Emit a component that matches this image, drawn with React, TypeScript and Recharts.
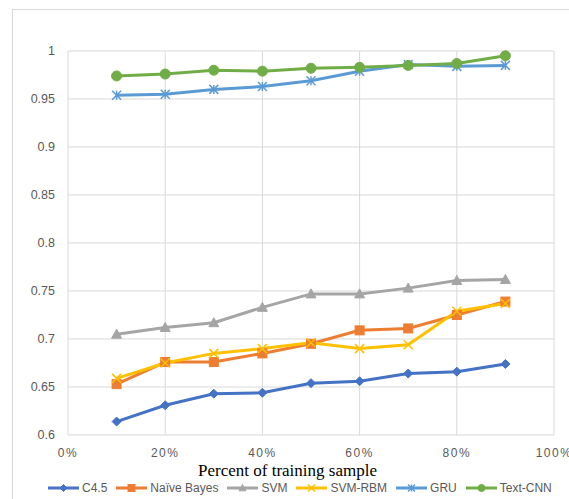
import { LineChart, Line, XAxis, YAxis, CartesianGrid } from 'recharts'

const percents = [10, 20, 30, 40, 50, 60, 70, 80, 90]
const xTicks = [0, 20, 40, 60, 80, 100]
const yTicks = [0.6, 0.65, 0.7, 0.75, 0.8, 0.85, 0.9, 0.95, 1]

const c45 = [0.614, 0.631, 0.643, 0.644, 0.654, 0.656, 0.664, 0.666, 0.674]
const naiveBayes = [0.653, 0.676, 0.676, 0.685, 0.695, 0.709, 0.711, 0.725, 0.739]
const svm = [0.705, 0.712, 0.717, 0.733, 0.747, 0.747, 0.753, 0.761, 0.762]
const svmRbm = [0.659, 0.675, 0.685, 0.69, 0.696, 0.69, 0.694, 0.729, 0.737]
const gru = [0.954, 0.955, 0.96, 0.963, 0.969, 0.979, 0.986, 0.984, 0.985]
const textCnn = [0.974, 0.976, 0.98, 0.979, 0.982, 0.983, 0.985, 0.987, 0.995]

type Marker = 'diamond' | 'square' | 'triangle' | 'cross' | 'star' | 'circle'

const series: { key: string; name: string; color: string; marker: Marker; values: number[] }[] = [
  { key: 'c45', name: 'C4.5', color: '#4472C4', marker: 'diamond', values: c45 },
  { key: 'nb', name: 'Naïve Bayes', color: '#ED7D31', marker: 'square', values: naiveBayes },
  { key: 'svm', name: 'SVM', color: '#A5A5A5', marker: 'triangle', values: svm },
  { key: 'svmRbm', name: 'SVM-RBM', color: '#FFC000', marker: 'cross', values: svmRbm },
  { key: 'gru', name: 'GRU', color: '#5B9BD5', marker: 'star', values: gru },
  { key: 'textCnn', name: 'Text-CNN', color: '#70AD47', marker: 'circle', values: textCnn },
]

const data = percents.map((p, i) => {
  const row: Record<string, number> = { pct: p }
  series.forEach((s) => (row[s.key] = s.values[i]))
  return row
})

const GREY = '#595959'
const GRID = '#D9D9D9'

function MarkerShape({ cx, cy, kind, color, size }: { cx: number; cy: number; kind: Marker; color: string; size: number }) {
  const r = size
  switch (kind) {
    case 'diamond':
      return <polygon points={`${cx},${cy - r} ${cx + r},${cy} ${cx},${cy + r} ${cx - r},${cy}`} fill={color} stroke={color} />
    case 'square':
      return <rect x={cx - r} y={cy - r} width={r * 2} height={r * 2} fill={color} stroke={color} />
    case 'triangle':
      return <polygon points={`${cx},${cy - r} ${cx + r},${cy + r * 0.8} ${cx - r},${cy + r * 0.8}`} fill={color} stroke={color} />
    case 'cross':
      return (
        <g stroke={color} strokeWidth={1.5}>
          <line x1={cx - r} y1={cy - r} x2={cx + r} y2={cy + r} />
          <line x1={cx - r} y1={cy + r} x2={cx + r} y2={cy - r} />
        </g>
      )
    case 'star':
      return (
        <g stroke={color} strokeWidth={1.5}>
          <line x1={cx - r} y1={cy - r} x2={cx + r} y2={cy + r} />
          <line x1={cx - r} y1={cy + r} x2={cx + r} y2={cy - r} />
          <line x1={cx} y1={cy - r} x2={cx} y2={cy + r} />
        </g>
      )
    default:
      return <circle cx={cx} cy={cy} r={r} fill={color} stroke={color} />
  }
}

const dotSize: Record<Marker, number> = { diamond: 4.5, square: 4.5, triangle: 5, cross: 4.5, star: 4.5, circle: 5 }

function XTick(props: any) {
  const { x, y, payload } = props
  return (
    <text x={x} y={y} dy="0.71em" textAnchor="middle" fill={GREY} fontSize={12} letterSpacing={1.5} fontFamily="Liberation Sans, Arial, sans-serif">
      {`${payload.value}%`}
    </text>
  )
}

export default function App() {
  return (
    <div style={{ position: 'absolute', left: 0, top: 0, width: 569, height: 499, overflow: 'hidden', background: '#fff' }}>
      <div style={{ position: 'absolute', left: 12, top: 9, width: 620, height: 600, border: `1px solid ${GRID}` }} />
      <LineChart
        width={569}
        height={499}
        data={data}
        margin={{ top: 51, right: 15, left: 13, bottom: 44 }}
        style={{ position: 'absolute', left: 0, top: 0 }}
      >
        <CartesianGrid stroke={GRID} />
        <XAxis
          dataKey="pct"
          type="number"
          domain={[0, 100]}
          ticks={xTicks}
          axisLine={false}
          tickLine={false}
          tickSize={0}
          tickMargin={13}
          height={20}
          tick={<XTick />}
        />
        <YAxis
          type="number"
          domain={[0.6, 1]}
          ticks={yTicks}
          axisLine={false}
          tickLine={false}
          tickSize={0}
          tickMargin={13}
          width={55}
          tick={{ fill: GREY, fontSize: 12.5, fontFamily: 'Liberation Sans, Arial, sans-serif' }}
        />
        {series.map((s) => (
          <Line
            key={s.key}
            dataKey={s.key}
            name={s.name}
            stroke={s.color}
            strokeWidth={3}
            isAnimationActive={false}
            dot={(p: any) => <MarkerShape key={`${s.key}-${p.index}`} cx={p.cx} cy={p.cy} kind={s.marker} color={s.color} size={dotSize[s.marker]} />}
            activeDot={false}
          />
        ))}
      </LineChart>
      <div
        style={{
          position: 'absolute',
          left: 0,
          width: 575,
          top: 462,
          textAlign: 'center',
          fontFamily: 'Liberation Serif, Times New Roman, serif',
          fontSize: 17,
          lineHeight: '17px',
          color: '#000',
        }}
      >
        Percent of training sample
      </div>
      <div
        style={{
          position: 'absolute',
          left: 48,
          top: 481,
          display: 'flex',
          alignItems: 'center',
          gap: 9,
          fontFamily: 'Liberation Sans, Arial, sans-serif',
          fontSize: 12,
          lineHeight: '14px',
          color: GREY,
          whiteSpace: 'nowrap',
        }}
      >
        {series.map((s) => (
          <div key={s.key} style={{ display: 'flex', alignItems: 'center', gap: 3 }}>
            <svg width={31} height={12}>
              <line x1={0} y1={6} x2={31} y2={6} stroke={s.color} strokeWidth={3} />
              <MarkerShape cx={15.5} cy={6} kind={s.marker} color={s.color} size={3.5} />
            </svg>
            <span>{s.name}</span>
          </div>
        ))}
      </div>
    </div>
  )
}
